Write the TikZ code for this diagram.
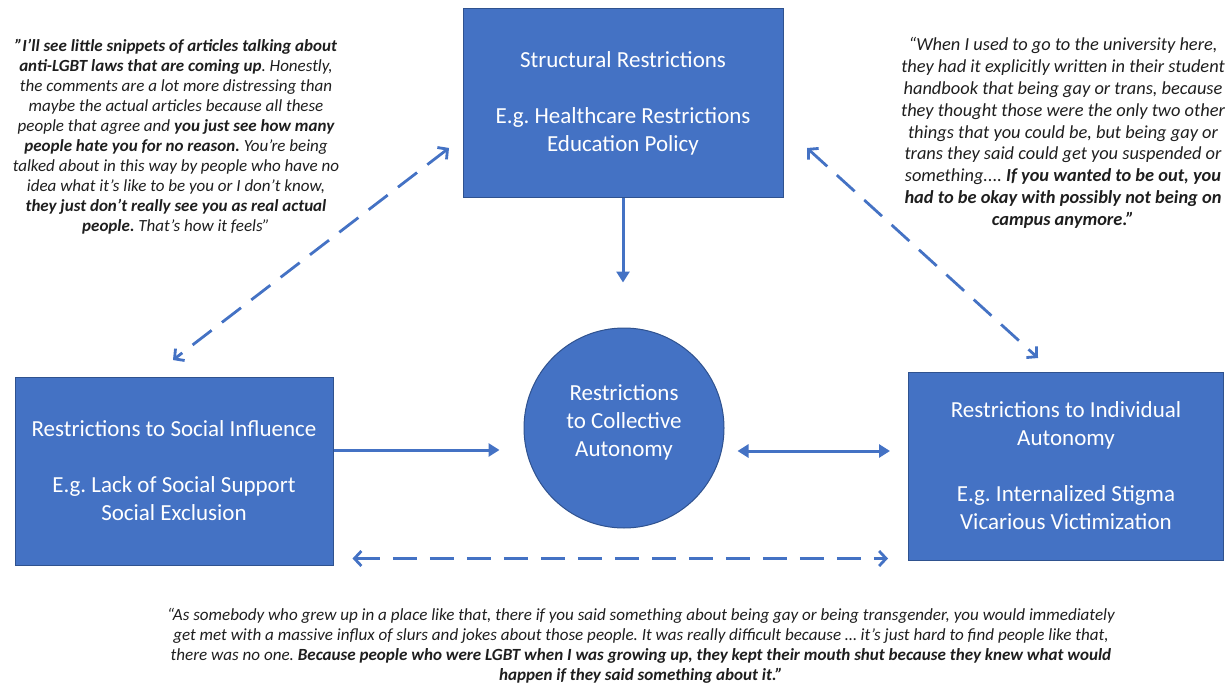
\documentclass[tikz,border=0pt]{standalone}
\usepackage{fontspec}
\setmainfont{Carlito}
\usetikzlibrary{arrows.meta}
\definecolor{boxblue}{HTML}{4472C4}
\definecolor{boxedge}{HTML}{2F528F}
\definecolor{quotegray}{HTML}{1E1E1E}
\begin{document}
\frenchspacing
\begin{tikzpicture}[x=1pt,y=-1pt,
  box/.style={draw=boxedge, line width=1pt, fill=boxblue, text=white,
    font=\fontsize{23}{28}\selectfont, align=center, inner sep=0pt},
  roundbox/.style={circle, draw=boxedge, line width=1pt, fill=boxblue, minimum size=200pt, inner sep=0pt},
  boxtext/.style={text=white, font=\fontsize{23}{28}\selectfont, align=center, inner sep=0pt},
  quote/.style={text=quotegray, font=\fontsize{17}{20}\selectfont\itshape, align=center, inner sep=0pt},
  bigquote/.style={text=quotegray, font=\fontsize{18.4}{21.8}\selectfont\itshape, align=center, inner sep=0pt},
  solidarrow/.style={draw=boxblue, line width=3pt, -{Triangle[width=13pt,length=11pt]}},
  bothsolid/.style={draw=boxblue, line width=3pt, {Triangle[width=13pt,length=11pt]}-{Triangle[width=13pt,length=11pt]}},
  dasharrow/.style={draw=boxblue, line width=2.8pt, dash pattern=on 24pt off 13pt,
    {Straight Barb[length=7pt,width=15pt]}-{Straight Barb[length=7pt,width=15pt]}},
]
\useasboundingbox (0,0) rectangle (1225,687);

% boxes
\node[box, minimum width=320pt, minimum height=188pt] (sr) at (623,103)
  {Structural Restrictions\\[28pt]E.g. Healthcare Restrictions\\Education Policy};
\node[box, minimum width=318pt, minimum height=188pt] (si) at (174,471)
  {Restrictions to Social Influence\\[28pt]E.g. Lack of Social Support\\Social Exclusion};
\node[box, minimum width=315pt, minimum height=188pt] (ia) at (1066,466)
  {Restrictions to Individual\\Autonomy\\[28pt]E.g. Internalized Stigma\\Vicarious Victimization};
\node[roundbox] (circ) at (624,428) {};
\node[boxtext] (circtext) at (624,422) {Restrictions\\to Collective\\Autonomy};

% solid arrows
\draw[solidarrow, shorten >=45pt] (sr.south) -- (sr.south |- circ.north);
\draw[solidarrow, shorten >=24pt] ([yshift=21pt]si.east) -- ([yshift=21pt]si.east -| circ.west);
\draw[bothsolid, shorten <=13pt, shorten >=18pt] ([yshift=15pt]ia.west -| circ.east) -- ([yshift=15pt]ia.west);

% dashed arrows
\draw[dasharrow, shorten <=19pt, shorten >=20pt] ([yshift=7pt]si.south east) -- ([yshift=7pt]si.south east -| ia.west);
\coordinate (tlA) at (449,148);
\coordinate (tlB) at (173,360);
\coordinate (trA) at (807,148);
\coordinate (trB) at (1038,358);
\draw[dasharrow] (tlA) -- (tlB);
\draw[dasharrow] (trA) -- (trB);

% quotes
\node[quote] (q1) at (176,137) {%
\textbf{"I'll see little snippets of articles talking about}\\
\textbf{anti-LGBT laws that are coming up}. Honestly,\\
the comments are a lot more distressing than\\
maybe the actual articles because all these\\
people that agree and \textbf{you just see how many}\\
\textbf{people hate you for no reason.} You're being\\
talked about in this way by people who have no\\
idea what it's like to be you or I don't know,\\
\textbf{they just don't really see you as real actual}\\
\textbf{people.} That's how it feels”};

\node[bigquote] (q2) at (1063,133) {%
“When I used to go to the university here,\\
they had it explicitly written in their student\\
handbook that being gay or trans, because\\
they thought those were the only two other\\
things that you could be, but being gay or\\
trans they said could get you suspended or\\
something.... \textbf{If you wanted to be out, you}\\
\textbf{had to be okay with possibly not being on}\\
\textbf{campus anymore.”}};

\node[quote, font=\fontsize{17.05}{20}\selectfont\itshape] (q3) at (641,646) {%
“As somebody who grew up in a place like that, there if you said something about being gay or being transgender, you would immediately\\
get met with a massive influx of slurs and jokes about those people. It was really difficult because … it's just hard to find people like that,\\
there was no one. \textbf{Because people who were LGBT when I was growing up, they kept their mouth shut because they knew what would}\\
\textbf{happen if they said something about it.”}};
\end{tikzpicture}
\end{document}
